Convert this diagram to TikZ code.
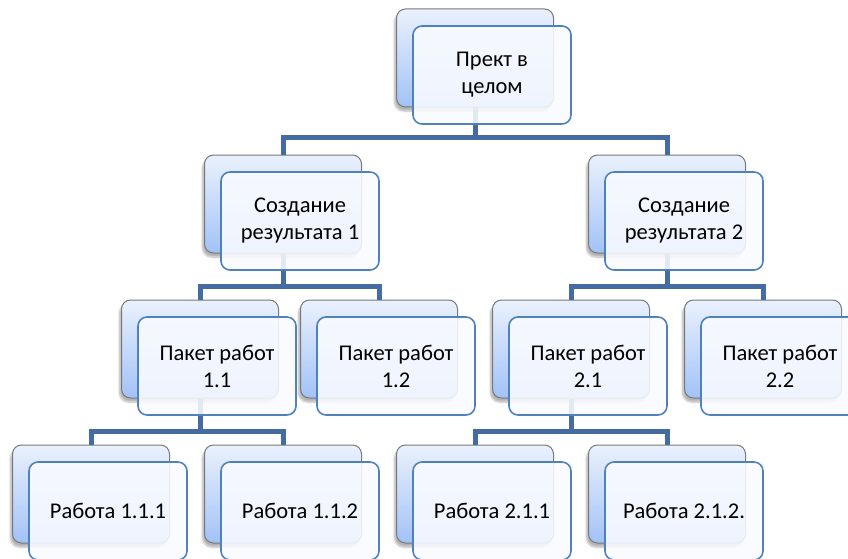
\documentclass[tikz,border=0pt]{standalone}
\usepackage{fontspec}
\setmainfont{Carlito}
\usepackage{xcolor}
\usetikzlibrary{positioning, calc, shadows.blur}

\definecolor{linkblue}{RGB}{68,108,163}
\definecolor{frameblue}{RGB}{79,129,189}
\definecolor{backtop}{RGB}{234,241,253}
\definecolor{backbottom}{RGB}{162,194,247}
\definecolor{backframe}{RGB}{120,120,120}
\definecolor{frontfill}{RGB}{249,251,255}

\begin{document}
\begin{tikzpicture}[x=1pt, y=-1pt, font=\fontsize{22.5}{27}\selectfont]
		\tikzstyle{backbox}=[draw=backframe, line width=1, rounded corners=9, minimum height=98, minimum width=157, top color=backtop, bottom color=backbottom, blur shadow={shadow xshift=-2pt, shadow yshift=-4pt, shadow opacity=30, shadow blur steps=6}]
		\tikzstyle{frontbox}=[draw=frameblue, line width=1.6, rounded corners=9, minimum height=98, minimum width=158, fill=frontfill, fill opacity=0.88, text opacity=1, align=center, text=black]
		\tikzstyle{link}=[line width=5, linkblue]
		
		\useasboundingbox (0,0) rectangle (848,559);
		
		% back boxes
		\node (pr) at (475,58) [backbox] {};
		\node (r1) at (283,204) [backbox] {};
		\node (r2) at (667,204) [backbox] {};
		\node (p11) at (200,349) [backbox] {};
		\node (p12) at (379,349) [backbox] {};
		\node (p21) at (571,349) [backbox] {};
		\node (p22) at (763,349) [backbox] {};
		\node (w111) at (91,494) [backbox] {};
		\node (w112) at (283,494) [backbox] {};
		\node (w211) at (475,494) [backbox] {};
		\node (w212) at (667,494) [backbox] {};
		
		% connectors
		\coordinate (j0) at (475,137);
		\coordinate (j1) at (283,286);
		\coordinate (j2) at (667,286);
		\coordinate (j3) at (200,431);
		\coordinate (j4) at (571,431);
		
		\draw [link] (pr.south) -- (j0) -| (r1.north);
		\draw [link] (j0) -| (r2.north);
		\draw [link] (r1.south) -- (j1) -| (p11.north);
		\draw [link] (j1) -| (p12.north);
		\draw [link] (r2.south) -- (j2) -| (p21.north);
		\draw [link] (j2) -| (p22.north);
		\draw [link] (p11.south) -- (j3) -| (w111.north);
		\draw [link] (j3) -| (w112.north);
		\draw [link] (p21.south) -- (j4) -| (w211.north);
		\draw [link] (j4) -| (w212.north);
		
		% front boxes with the texts
		\node (prt) at ($(pr)+(17,17)$) [frontbox] {Прект в\\целом};
		\node (r1t) at ($(r1)+(17,17)$) [frontbox] {Создание\\результата 1};
		\node (r2t) at ($(r2)+(17,17)$) [frontbox] {Создание\\результата 2};
		\node (p11t) at ($(p11)+(17,17)$) [frontbox] {Пакет работ\\1.1};
		\node (p12t) at ($(p12)+(17,17)$) [frontbox] {Пакет работ\\1.2};
		\node (p21t) at ($(p21)+(17,17)$) [frontbox] {Пакет работ\\2.1};
		\node (p22t) at ($(p22)+(17,17)$) [frontbox] {Пакет работ\\2.2};
		\node (w111t) at ($(w111)+(17,17)$) [frontbox] {Работа 1.1.1};
		\node (w112t) at ($(w112)+(17,17)$) [frontbox] {Работа 1.1.2};
		\node (w211t) at ($(w211)+(17,17)$) [frontbox] {Работа 2.1.1};
		\node (w212t) at ($(w212)+(17,17)$) [frontbox] {Работа 2.1.2.};
\end{tikzpicture}
\end{document}
